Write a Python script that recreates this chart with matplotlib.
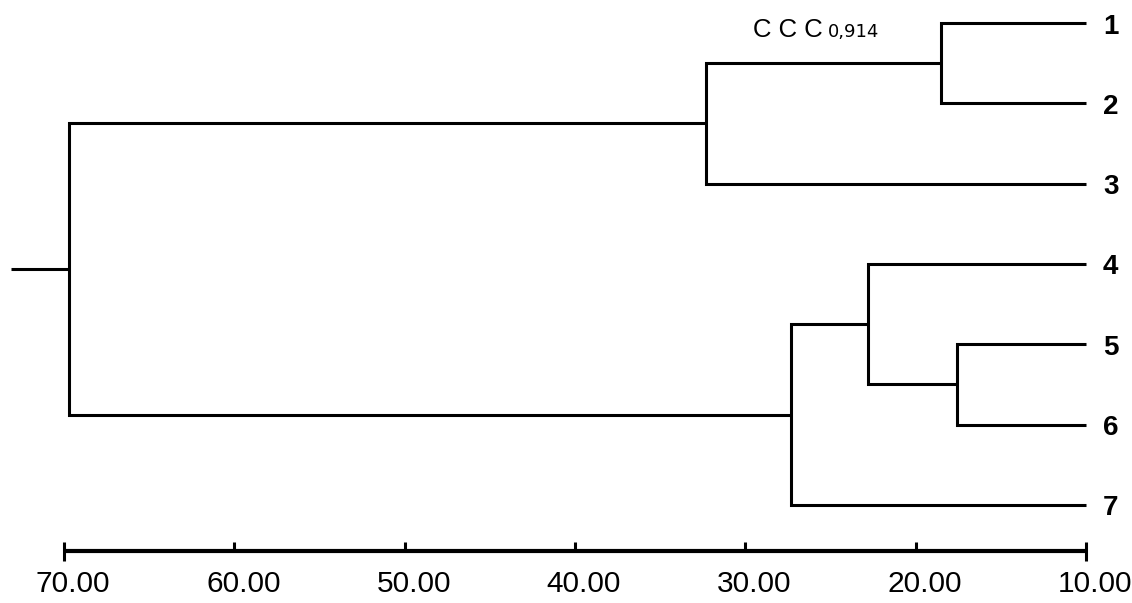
import matplotlib
matplotlib.use('Agg')
import matplotlib.pyplot as plt
from matplotlib.transforms import ScaledTranslation

# ---------------- data ----------------
leaf_labels = ['1', '2', '3', '4', '5', '6', '7']
leaf_distance = 10.0
# merges: ids 0-6 are leaves, each merge creates id 7, 8, ...
merge_a = [0, 7, 4, 3, 10, 8]
merge_b = [1, 2, 5, 9, 6, 11]
merge_dist = [18.5, 32.3, 17.6, 22.8, 27.3, 69.7]
root_stub = 73.1
tick_values = [70, 60, 50, 40, 30, 20, 10]
tick_labels = ['70.00', '60.00', '50.00', '40.00', '30.00', '20.00', '10.00']
ccc_label = 'C C C'
ccc_value = '0,914'

# ---------------- layout ----------------
W, H, DPI = 1132, 603, 100
fig = plt.figure(figsize=(W / DPI, H / DPI), dpi=DPI)
ax = fig.add_axes([0, 0, 1, 1])
ax.set_axis_off()

# pixel <-> data mapping (x reversed)
px_per_unit_x = 17.033
x_at_px0 = 73.757
x_at_pxW = x_at_px0 - W / px_per_unit_x
px_per_unit_y = 80.33
y_at_px0 = 1 - 23 / px_per_unit_y
y_at_pxH = 1 + (H - 23) / px_per_unit_y
ax.set_xlim(x_at_px0, x_at_pxW)
ax.set_ylim(y_at_pxH, y_at_px0)

LW = 2.2
col = 'black'

node_x = {i: leaf_distance for i in range(len(leaf_labels))}
node_y = {i: i + 1.0 for i in range(len(leaf_labels))}
n = len(leaf_labels)
for k, (a, b, d) in enumerate(zip(merge_a, merge_b, merge_dist)):
    ax.plot([node_x[a], d, d, node_x[b]],
            [node_y[a], node_y[a], node_y[b], node_y[b]],
            color=col, lw=LW, solid_joinstyle='miter', solid_capstyle='butt')
    node_x[n + k] = d
    node_y[n + k] = (node_y[a] + node_y[b]) / 2
root = n + len(merge_a) - 1
ax.plot([node_x[root], root_stub], [node_y[root], node_y[root]],
        color=col, lw=LW, solid_capstyle='butt')

# leaf labels
leaf_off = ScaledTranslation(0.17, -0.105, fig.dpi_scale_trans)
for i, lab in enumerate(leaf_labels):
    ax.text(leaf_distance, i + 1, lab, ha='left', va='baseline',
            fontsize=20, fontweight='bold',
            family=['Liberation Sans Narrow', 'Liberation Sans', 'DejaVu Sans'],
            transform=ax.transData + leaf_off)

# scale axis
y_axis = 1 + (551 - 23) / px_per_unit_y
tick_up = 9 / px_per_unit_y
tick_down = 10 / px_per_unit_y
ax.plot([max(tick_values), min(tick_values)], [y_axis, y_axis], color=col,
        lw=3.0, solid_capstyle='butt')
for j, v in enumerate(tick_values):
    bottom = y_axis + (tick_down if j in (0, len(tick_values) - 1) else 0)
    ax.plot([v, v], [y_axis - tick_up, bottom], color=col, lw=2.2,
            solid_capstyle='butt')

y_lab = 1 + (584 - 23) / px_per_unit_y
lab_off = ScaledTranslation(0.09, 0, fig.dpi_scale_trans)
for v, t in zip(tick_values, tick_labels):
    ax.text(v, y_lab, t, ha='center', va='center', fontsize=21.5,
            family=['Liberation Sans Narrow', 'Liberation Sans', 'DejaVu Sans'],
            transform=ax.transData + lab_off)

# CCC annotation
y_ccc = 1 + (37 - 23) / px_per_unit_y
ax.text(x_at_px0 - 753 / px_per_unit_x, y_ccc, ccc_label, ha='left',
        va='baseline', fontsize=18.5, family=['Liberation Sans', 'DejaVu Sans'])
ax.text(x_at_px0 - 828 / px_per_unit_x, y_ccc, ccc_value, ha='left',
        va='baseline', fontsize=13, family=['DejaVu Sans'])

fig.savefig('out.png', dpi=DPI, facecolor='white')
